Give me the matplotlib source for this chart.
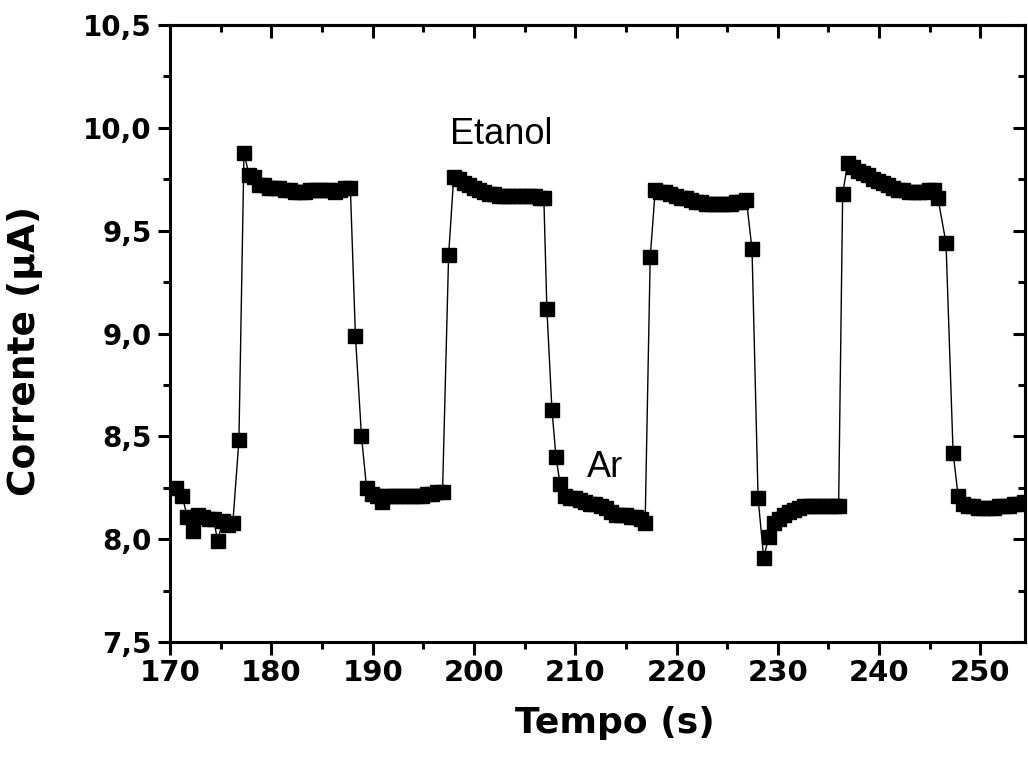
import numpy as np
import matplotlib
matplotlib.use("Agg")
import matplotlib.pyplot as plt
from matplotlib.ticker import MultipleLocator, FuncFormatter

# time (s) and current (uA)
tempo = [
    170.6, 171.2, 171.7, 172.3, 172.8, 173.3, 173.8, 174.3, 174.7, 175.2, 175.7, 176.2,
    176.8, 177.3, 177.8, 178.3, 178.8, 179.3, 179.8, 180.3, 180.8, 181.3, 181.8, 182.3,
    182.8, 183.3, 183.8, 184.3, 184.8, 185.3, 185.8, 186.3, 186.8, 187.3, 187.8,
    188.3, 188.9, 189.4, 189.9, 190.4, 190.9, 191.4, 191.9, 192.4, 192.9, 193.4, 193.9,
    194.4, 194.9, 195.4, 195.9, 196.4, 196.9,
    197.5, 198.0, 198.5, 199.0, 199.5, 200.0, 200.5, 201.0, 201.5, 202.0, 202.5, 203.0,
    203.5, 204.0, 204.5, 205.0, 205.5, 206.0, 206.5, 206.9,
    207.2, 207.7, 208.1, 208.5, 209.0, 209.5, 210.0, 210.5, 211.0, 211.5, 212.0, 212.5,
    213.0, 213.5, 214.0, 214.5, 215.0, 215.5, 216.0, 216.5, 216.9,
    217.4, 217.9, 218.4, 218.9, 219.4, 219.9, 220.4, 220.9, 221.4, 221.9, 222.4, 222.9,
    223.4, 223.9, 224.4, 224.9, 225.4, 225.9, 226.4, 226.9,
    227.45, 228.05, 228.6, 229.1, 229.6, 230.1, 230.6, 231.1, 231.6, 232.1, 232.6, 233.1,
    233.6, 234.1, 234.6, 235.1, 235.6, 236.0,
    236.4, 236.9, 237.4, 237.9, 238.4, 238.9, 239.4, 239.9, 240.4, 240.9, 241.4, 241.9,
    242.4, 242.9, 243.4, 243.9, 244.4, 244.9, 245.4, 245.8,
    246.6, 247.3, 247.8, 248.3, 248.8, 249.3, 249.8, 250.3, 250.8, 251.3, 251.8, 252.3,
    252.8, 253.3, 253.8, 254.3,
]
corrente = [
    8.25, 8.21, 8.11, 8.04, 8.12, 8.11, 8.10, 8.10, 7.99, 8.09, 8.07, 8.08,
    8.48, 9.88, 9.77, 9.76, 9.72, 9.72, 9.71, 9.71, 9.71, 9.70, 9.70, 9.69,
    9.69, 9.69, 9.70, 9.70, 9.70, 9.70, 9.70, 9.69, 9.70, 9.71, 9.71,
    8.99, 8.50, 8.25, 8.22, 8.21, 8.18, 8.21, 8.21, 8.21, 8.21, 8.21, 8.21,
    8.21, 8.21, 8.22, 8.22, 8.23, 8.23,
    9.38, 9.76, 9.75, 9.73, 9.72, 9.71, 9.70, 9.69, 9.68, 9.68, 9.67, 9.67,
    9.67, 9.67, 9.67, 9.67, 9.67, 9.67, 9.66, 9.66,
    9.12, 8.63, 8.40, 8.27, 8.21, 8.20, 8.20, 8.19, 8.18, 8.17, 8.17, 8.16,
    8.15, 8.13, 8.12, 8.12, 8.12, 8.11, 8.11, 8.10, 8.08,
    9.37, 9.70, 9.69, 9.69, 9.68, 9.67, 9.66, 9.66, 9.65, 9.64, 9.64, 9.63,
    9.63, 9.63, 9.63, 9.63, 9.63, 9.64, 9.64, 9.65,
    9.41, 8.20, 7.91, 8.01, 8.08, 8.10, 8.12, 8.13, 8.14, 8.15, 8.16, 8.16,
    8.16, 8.16, 8.16, 8.16, 8.16, 8.16,
    9.68, 9.83, 9.81, 9.79, 9.78, 9.77, 9.75, 9.74, 9.73, 9.72, 9.71, 9.70,
    9.70, 9.69, 9.69, 9.69, 9.69, 9.70, 9.70, 9.66,
    9.44, 8.42, 8.21, 8.17, 8.16, 8.16, 8.15, 8.15, 8.15, 8.15, 8.16, 8.16,
    8.16, 8.17, 8.17, 8.18,
]

matplotlib.rcParams.update({'font.family': 'DejaVu Sans'})

fig = plt.figure(figsize=(10.28, 7.70), dpi=100)
ax = fig.add_axes([0.1654, 0.1662, 0.8317, 0.8013])

ax.plot(tempo, corrente, 'k-', lw=1.0, marker='s', ms=9.5, mfc='black', mec='black')

ax.set_xlim(170, 254.4)
ax.set_ylim(7.5, 10.5)

ax.xaxis.set_major_locator(MultipleLocator(10))
ax.xaxis.set_minor_locator(MultipleLocator(5))
ax.yaxis.set_major_locator(MultipleLocator(0.5))
ax.yaxis.set_minor_locator(MultipleLocator(0.25))
ax.yaxis.set_major_formatter(FuncFormatter(lambda v, p: ('%.1f' % v).replace('.', ',')))
ax.xaxis.set_major_formatter(FuncFormatter(lambda v, p: '%d' % v))

for s in ax.spines.values():
    s.set_linewidth(2.2)

# outer ticks on bottom/left, inward mirrored ticks on top/right
ax.tick_params(axis='both', which='major', length=9, width=2.2, direction='out')
ax.tick_params(axis='both', which='minor', length=5, width=2.2, direction='out')
ax.tick_params(axis='x', which='major', labelsize=21, pad=3)
ax.tick_params(axis='y', which='major', labelsize=20, pad=4)
for lab in ax.get_xticklabels() + ax.get_yticklabels():
    lab.set_fontweight('bold')

ax_top = ax.secondary_xaxis('top')
ax_top.xaxis.set_major_locator(MultipleLocator(10))
ax_top.xaxis.set_minor_locator(MultipleLocator(5))
ax_top.tick_params(which='major', direction='in', length=9, width=2.2, labeltop=False)
ax_top.tick_params(which='minor', direction='in', length=5, width=2.2)
ax_top.spines['top'].set_linewidth(2.2)
ax_right = ax.secondary_yaxis('right')
ax_right.yaxis.set_major_locator(MultipleLocator(0.5))
ax_right.yaxis.set_minor_locator(MultipleLocator(0.25))
ax_right.tick_params(which='major', direction='in', length=9, width=2.2, labelright=False)
ax_right.tick_params(which='minor', direction='in', length=5, width=2.2)
ax_right.spines['right'].set_linewidth(2.2)

ax.set_xlabel('Tempo (s)', fontsize=26, fontweight='bold')
ax.xaxis.set_label_coords(0.52, -0.103)
ax.set_ylabel('Corrente (\u03bcA)', fontsize=27, fontweight='bold')
ax.yaxis.set_label_coords(-0.148, 0.472)

ax.text(202.7, 9.92, 'Etanol', fontsize=26, ha='center', va='baseline', family='Liberation Sans')
ax.text(211.2, 8.30, 'Ar', fontsize=26, ha='left', va='baseline', family='Liberation Sans')

fig.savefig('out.png', dpi=100)
